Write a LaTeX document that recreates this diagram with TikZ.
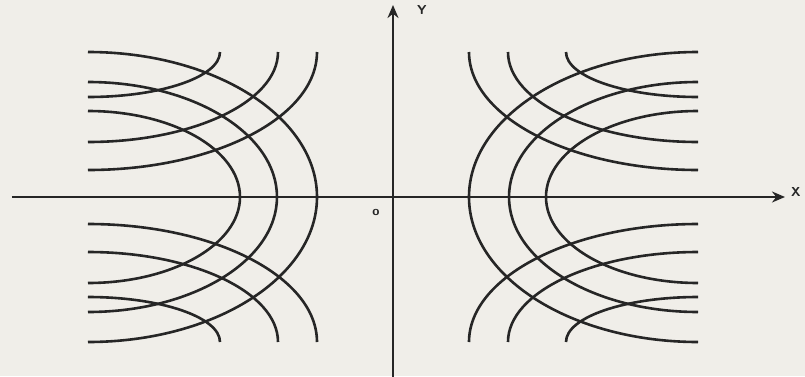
\documentclass[tikz,border=0pt]{standalone}
\usepackage{tikz}
\usetikzlibrary{arrows.meta}
\definecolor{paper}{RGB}{240,238,233}
\definecolor{ink}{RGB}{38,38,38}
\tikzset{curve/.style={ink,line width=2.6pt},
  axis/.style={ink,line width=2.4pt,->},
  lbl/.style={ink,font=\sffamily\bfseries\fontsize{13}{13}\selectfont,inner sep=0pt}}
\begin{document}
\begin{tikzpicture}[x=1pt,y=1pt,>={Stealth[length=13pt,width=11pt]}]
  \fill[paper](-393,-179)rectangle(412,197);
  \path[use as bounding box](-393,-179)rectangle(412,197);
  \coordinate(xl)at(-381,0);
  \coordinate(xr)at(392,0);
  \coordinate(yb)at(0,-182);
  \coordinate(yt)at(0,192);
  \draw[axis](xl)--(xr);
  \draw[axis](yb)--(yt);
  \node[lbl](xlab)at(403,5){X};
  \node[lbl](ylab)at(29,187){Y};
  \node[lbl](olab)at(-17,-15){o};
  \foreach \s in {1,-1}{
    \begin{scope}[xscale=\s]
      \foreach \a/\b in {229/145,189/115,152/86}
        \draw[curve](-305,\b)arc[start angle=90,end angle=-90,x radius=\a,y radius=\b];
      \foreach \t in {1,-1}{
        \begin{scope}[yscale=\t]
          \foreach \a/\b in {229/118,190/90,132/45}
            \draw[curve](-305,{145-\b})arc[start angle=-90,end angle=0,x radius=\a,y radius=\b];
        \end{scope}}
    \end{scope}}
\end{tikzpicture}
\end{document}
